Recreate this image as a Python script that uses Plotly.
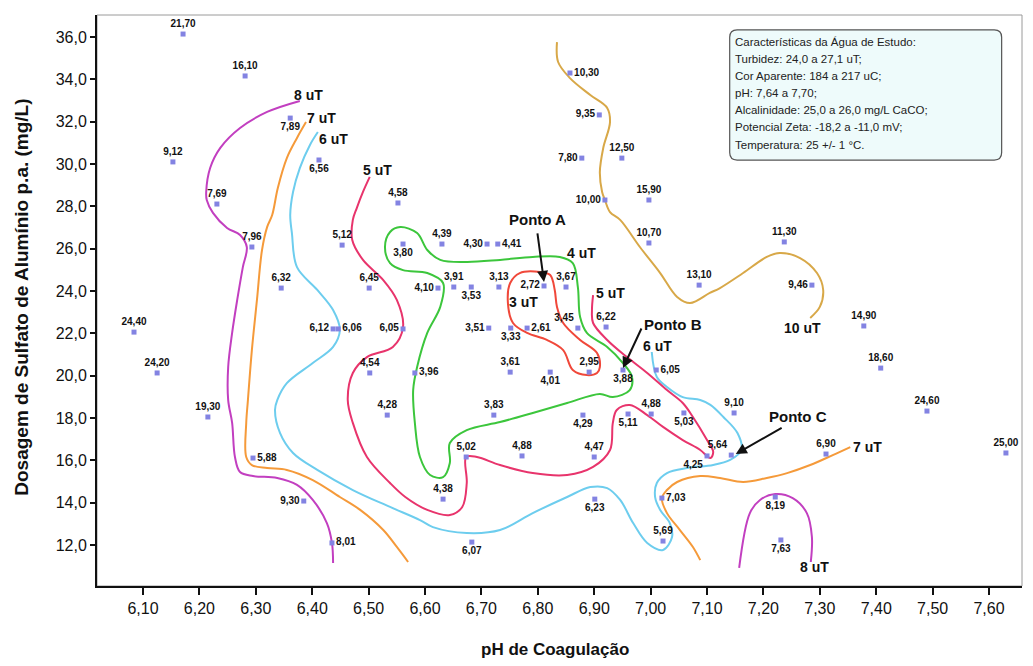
import plotly.graph_objects as go

# ---------------- data ----------------
pts_ph = [6.171, 6.281, 6.361, 6.153, 6.412, 6.231, 6.552, 6.857, 6.909, 6.949, 6.878, 6.919, 6.997,
          6.293, 6.453, 6.561, 6.345, 6.501, 6.084, 6.437, 6.446, 6.561, 6.125, 6.502, 6.582,
          6.630, 6.710, 6.729, 6.623, 6.651, 6.682, 6.731, 6.811, 6.850, 6.713, 6.752, 6.781, 6.871,
          6.921, 6.751, 6.822, 6.891, 6.951, 7.010, 6.997, 7.086, 7.237, 7.286, 7.378, 7.408,
          6.215, 6.533, 6.295, 6.385, 6.435, 6.722, 6.880, 6.960, 7.001, 7.059, 6.673, 6.772,
          6.900, 7.100, 6.632, 6.901, 7.020, 6.683, 7.022, 7.148, 7.143, 7.311, 7.490, 7.630,
          7.221, 7.231]
pts_dose = [36.14, 34.16, 32.17, 30.10, 30.19, 28.11, 28.16, 34.30, 32.32, 30.28, 30.28, 28.30, 28.30,
            26.08, 26.17, 26.22, 24.14, 24.14, 22.06, 22.21, 22.21, 22.21, 20.13, 20.13, 20.13,
            26.22, 26.22, 26.22, 24.14, 24.19, 24.19, 24.19, 24.24, 24.19, 22.25, 22.25, 22.25, 22.25,
            22.30, 20.17, 20.17, 20.17, 20.27, 20.27, 26.27, 24.28, 26.32, 24.28, 22.35, 20.36,
            18.05, 18.14, 16.11, 14.08, 12.10, 18.14, 18.14, 18.19, 18.19, 18.24, 16.16, 16.21,
            16.16, 16.21, 14.17, 14.17, 14.22, 12.14, 12.19, 18.24, 16.25, 16.30, 18.33, 16.35,
            14.27, 12.24]
pts_turb = ["21,70", "16,10", "7,89", "9,12", "6,56", "7,69", "4,58", "10,30", "9,35", "12,50", "7,80", "10,00", "15,90",
            "7,96", "5,12", "3,80", "6,32", "6,45", "24,40", "6,12", "6,06", "6,05", "24,20", "4,54", "3,96",
            "4,39", "4,30", "4,41", "4,10", "3,91", "3,53", "3,13", "2,72", "3,67", "3,51", "3,33", "2,61", "3,45",
            "6,22", "3,61", "4,01", "2,95", "3,88", "6,05", "10,70", "13,10", "11,30", "9,46", "14,90", "18,60",
            "19,30", "4,28", "5,88", "9,30", "8,01", "3,83", "4,29", "5,11", "4,88", "5,03", "5,02", "4,88",
            "4,47", "4,25", "4,38", "6,23", "7,03", "6,07", "5,69", "9,10", "5,64", "6,90", "24,60", "25,00",
            "8,19", "7,63"]
label_pos = ["T", "T", "B", "T", "B", "T", "T", "R", "L", "T", "L", "L", "T",
             "T", "T", "B", "T", "T", "T", "L", "R", "L", "T", "T", "R",
             "T", "L", "R", "L", "T", "B", "T", "L", "T", "L", "B", "R", "TL",
             "T", "T", "B", "T", "B", "R", "T", "T", "T", "L", "T", "T",
             "T", "T", "R", "L", "R", "T", "B", "B", "T", "B", "T", "T",
             "T", "BL", "T", "B", "R", "B", "T", "T", "TL", "T", "T", "T",
             "B", "B"]

# iso-turbidity curves (pH, dose)
c8a_ph = [6.378, 6.320, 6.272, 6.237, 6.219, 6.212, 6.213, 6.224, 6.249, 6.272, 6.284, 6.277, 6.267,
          6.258, 6.251, 6.251, 6.258, 6.263, 6.272, 6.295, 6.338, 6.373, 6.401, 6.426, 6.435, 6.437]
c8a_dose = [32.98, 32.46, 31.70, 30.76, 29.81, 28.68, 28.30, 27.69, 26.98, 26.65, 26.08, 25.13, 23.58,
            22.02, 20.41, 18.85, 17.77, 16.16, 15.45, 15.26, 15.17, 14.84, 14.13, 13.04, 12.10, 11.15]
c8b_ph = [7.157, 7.176, 7.194, 7.221, 7.252, 7.277, 7.286, 7.284]
c8b_dose = [10.92, 13.51, 14.13, 14.41, 14.22, 13.51, 12.38, 11.20]
c7a_ph = [6.389, 6.373, 6.355, 6.339, 6.329, 6.320, 6.311, 6.302, 6.293, 6.286, 6.283, 6.283, 6.293,
          6.320, 6.355, 6.401, 6.449, 6.485, 6.526, 6.550, 6.570]
c7a_dose = [31.98, 31.23, 30.28, 28.87, 27.59, 27.02, 25.94, 23.58, 21.21, 18.85, 17.77, 16.16, 15.78,
            15.64, 15.55, 15.07, 14.27, 13.66, 12.71, 11.91, 11.20]
c7b_ph = [7.354, 7.323, 7.283, 7.242, 7.206, 7.164, 7.123, 7.088, 7.047, 7.029, 7.020, 7.029, 7.052, 7.075, 7.088]
c7b_dose = [16.63, 16.25, 15.78, 15.40, 15.17, 14.98, 15.17, 15.26, 14.98, 14.60, 14.22, 13.51, 12.71, 11.91, 11.29]
c6_ph = [6.410, 6.396, 6.378, 6.366, 6.361, 6.364, 6.373, 6.409, 6.437, 6.449, 6.437, 6.401, 6.355,
         6.338, 6.334, 6.343, 6.366, 6.409, 6.472, 6.538, 6.591, 6.614, 6.674, 6.733, 6.791, 6.852,
         6.893, 6.923, 6.946, 6.969, 6.994, 7.022, 7.038, 7.034, 7.017, 7.008, 7.011, 7.029, 7.065,
         7.111, 7.141, 7.161, 7.154, 7.129, 7.106, 7.088, 7.057, 7.029, 7.011, 7.002]
c6_dose = [31.51, 30.90, 29.81, 28.68, 27.59, 26.74, 25.13, 24.05, 23.10, 22.16, 21.36, 20.60, 19.65,
           18.85, 18.38, 17.29, 16.35, 15.55, 14.60, 13.80, 13.18, 12.85, 12.57, 12.71, 13.51, 14.27,
           14.74, 14.69, 14.13, 13.04, 12.10, 11.77, 12.38, 13.04, 13.66, 14.27, 14.93, 15.40, 15.64,
           15.78, 16.02, 16.49, 17.29, 18.05, 18.62, 18.85, 18.99, 19.47, 19.94, 21.12]
c5_ph = [6.502, 6.490, 6.479, 6.472, 6.471, 6.490, 6.526, 6.550, 6.561, 6.543, 6.497, 6.472, 6.463,
         6.472, 6.497, 6.538, 6.565, 6.604, 6.644, 6.666, 6.674, 6.673, 6.692, 6.733, 6.791, 6.852,
         6.898, 6.928, 6.933, 6.940, 6.963, 6.994, 7.022, 7.057, 7.088, 7.106, 7.111, 7.100, 7.075,
         7.057, 7.029, 6.994, 6.958, 6.923, 6.898, 6.896, 6.898]
c5_dose = [29.39, 28.68, 27.92, 27.36, 26.41, 25.47, 24.52, 23.58, 22.30, 21.36, 20.88, 20.13, 18.85,
           17.77, 16.16, 14.93, 14.27, 13.66, 13.42, 13.80, 14.93, 16.16, 16.16, 15.78, 15.40, 15.31,
           15.69, 16.49, 17.77, 18.38, 18.62, 18.14, 17.58, 16.96, 16.49, 16.11, 16.40, 16.96, 18.05,
           18.71, 19.32, 20.13, 20.88, 21.69, 22.49, 23.10, 23.81]
c4_ph = [6.604, 6.586, 6.556, 6.538, 6.529, 6.538, 6.561, 6.604, 6.632, 6.627, 6.604, 6.586, 6.579,
         6.582, 6.591, 6.609, 6.632, 6.644, 6.644, 6.674, 6.733, 6.791, 6.852, 6.910, 6.933, 6.963,
         6.967, 6.951, 6.923, 6.887, 6.875, 6.871, 6.862, 6.839, 6.791, 6.733, 6.674, 6.627, 6.604]
c4_dose = [25.94, 26.74, 27.02, 26.79, 26.08, 25.32, 24.99, 24.85, 24.38, 23.25, 22.02, 20.41, 19.32,
           17.77, 16.16, 15.31, 15.21, 15.88, 16.82, 17.43, 17.81, 18.24, 18.71, 19.14, 18.99, 19.32,
           19.94, 20.60, 21.36, 22.02, 22.77, 24.19, 25.32, 25.61, 25.61, 25.47, 25.37, 25.47, 25.94]
c3_ph = [6.751, 6.768, 6.804, 6.822, 6.830, 6.834, 6.845, 6.875, 6.905, 6.910, 6.905, 6.887, 6.862,
         6.845, 6.816, 6.781, 6.756, 6.747, 6.751]
c3_dose = [24.38, 24.85, 24.90, 24.76, 24.05, 23.25, 22.49, 21.69, 21.07, 20.41, 20.13, 20.03, 20.27,
           21.21, 21.69, 22.02, 22.49, 23.43, 24.38]
c10_ph = [6.834, 6.836, 6.857, 6.893, 6.923, 6.928, 6.916, 6.910, 6.914, 6.919, 6.928, 6.946, 6.981,
          7.017, 7.047, 7.070, 7.105, 7.123, 7.164, 7.206, 7.229, 7.265, 7.295, 7.306, 7.300, 7.283]
c10_dose = [35.76, 34.82, 34.06, 33.26, 32.65, 31.98, 30.76, 29.62, 28.68, 28.30, 27.73, 27.36, 26.08,
            24.85, 23.72, 23.43, 23.91, 24.14, 24.85, 25.61, 25.80, 25.56, 24.85, 24.05, 23.25, 22.73]

curve_label_text = ["8 uT", "7 uT", "6 uT", "5 uT", "4 uT", "3 uT", "5 uT", "6 uT", "10 uT", "7 uT", "8 uT"]
curve_label_ph = [6.393, 6.417, 6.437, 6.515, 6.878, 6.774, 6.928, 7.013, 7.270, 7.385, 7.291]
curve_label_dose = [33.26, 32.17, 31.18, 29.72, 25.80, 23.48, 23.91, 21.40, 22.25, 16.63, 10.96]

ponto_text = ["Ponto A", "Ponto B", "Ponto C"]
ponto_text_ph = [6.799, 7.040, 7.261]
ponto_text_dose = [27.36, 22.44, 18.05]
ponto_tail_ph = [6.799, 6.985, 7.235]
ponto_tail_dose = [26.79, 22.30, 17.58]
ponto_head_ph = [6.811, 6.951, 7.151]
ponto_head_dose = [24.43, 20.36, 16.30]

x_ticks = [6.1, 6.2, 6.3, 6.4, 6.5, 6.6, 6.7, 6.8, 6.9, 7.0, 7.1, 7.2, 7.3, 7.4, 7.5, 7.6]
x_ticktext = ["6,10", "6,20", "6,30", "6,40", "6,50", "6,60", "6,70", "6,80", "6,90", "7,00",
              "7,10", "7,20", "7,30", "7,40", "7,50", "7,60"]
y_ticks = [12, 14, 16, 18, 20, 22, 24, 26, 28, 30, 32, 34, 36]
y_ticktext = ["12,0", "14,0", "16,0", "18,0", "20,0", "22,0", "24,0", "26,0", "28,0", "30,0",
              "32,0", "34,0", "36,0"]

info_lines = ["Características da Água de Estudo:",
              "Turbidez: 24,0 a 27,1 uT;",
              "Cor Aparente: 184 a 217 uC;",
              "pH: 7,64 a 7,70;",
              "Alcalinidade: 25,0 a 26,0 mg/L CaCO;",
              "Potencial Zeta: -18,2 a -11,0 mV;",
              "Temperatura: 25 +/- 1 °C."]

# ---------------- figure ----------------
POS = {"T": "top center", "B": "bottom center", "L": "middle left", "R": "middle right",
       "TL": "top left", "BL": "bottom left"}
FONT = "Liberation Sans, Arial, sans-serif"

fig = go.Figure()

curves = [
    (c8a_ph, c8a_dose, "#c23fc0"),
    (c8b_ph, c8b_dose, "#c23fc0"),
    (c7a_ph, c7a_dose, "#f59a3a"),
    (c7b_ph, c7b_dose, "#f59a3a"),
    (c6_ph, c6_dose, "#6dcdee"),
    (c5_ph, c5_dose, "#e8346c"),
    (c4_ph, c4_dose, "#3cc63c"),
    (c3_ph, c3_dose, "#f0483a"),
    (c10_ph, c10_dose, "#d8a848"),
]
for xs, ys, col in curves:
    fig.add_trace(go.Scatter(x=xs, y=ys, mode="lines",
                             line=dict(color=col, width=2, shape="spline", smoothing=1.0),
                             hoverinfo="skip", showlegend=False))

fig.add_trace(go.Scatter(
    x=pts_ph, y=pts_dose, mode="markers+text", text=pts_turb,
    texttemplate="<b>%{text}</b>",
    textposition=[POS[p] for p in label_pos],
    textfont=dict(family=FONT, size=10, color="#111"),
    marker=dict(symbol="square", size=5, color="#8383e2"),
    showlegend=False, cliponaxis=False))

annotations = []
for t, x, y in zip(curve_label_text, curve_label_ph, curve_label_dose):
    annotations.append(dict(x=x, y=y, xref="x", yref="y", text="<b>%s</b>" % t, showarrow=False,
                            xanchor="center", yanchor="middle",
                            font=dict(family=FONT, size=14, color="#111")))
for t, x, y in zip(ponto_text, ponto_text_ph, ponto_text_dose):
    annotations.append(dict(x=x, y=y, xref="x", yref="y", text="<b>%s</b>" % t, showarrow=False,
                            xanchor="center", yanchor="middle",
                            font=dict(family=FONT, size=15, color="#111")))
for hx, hy, tx, ty in zip(ponto_head_ph, ponto_head_dose, ponto_tail_ph, ponto_tail_dose):
    annotations.append(dict(x=hx, y=hy, ax=tx, ay=ty, xref="x", yref="y", axref="x", ayref="y",
                            text="", showarrow=True, arrowhead=2, arrowsize=1.1, arrowwidth=2,
                            arrowcolor="#111"))

# info box text
box_top = 0.952
box_step = 0.0298
for i, line in enumerate(info_lines):
    annotations.append(dict(x=0.688, y=box_top - i * box_step, xref="paper", yref="paper",
                            xanchor="left", yanchor="middle", text=line, showarrow=False,
                            font=dict(family=FONT, size=11.5, color="#222")))

# axis titles
annotations.append(dict(x=0.495, y=-0.112, xref="paper", yref="paper", text="<b>pH de Coagulação</b>",
                        xanchor="center", yanchor="middle",
                        showarrow=False, font=dict(family=FONT, size=17, color="#111")))
annotations.append(dict(x=-0.081, y=0.505, xref="paper", yref="paper", textangle=-90,
                        xanchor="center", yanchor="middle",
                        text="<b>Dosagem de Sulfato de Alumínio p.a. (mg/L)</b>",
                        showarrow=False, font=dict(family=FONT, size=19, color="#111")))

x0, x1, y0, y1, rx, ry = 0.684, 0.978, 0.746, 0.974, 0.008, 0.013
box_path = (f"M {x0+rx},{y0} L {x1-rx},{y0} Q {x1},{y0} {x1},{y0+ry} L {x1},{y1-ry} "
            f"Q {x1},{y1} {x1-rx},{y1} L {x0+rx},{y1} Q {x0},{y1} {x0},{y1-ry} "
            f"L {x0},{y0+ry} Q {x0},{y0} {x0+rx},{y0} Z")
shapes = [
    dict(type="rect", xref="paper", yref="paper", x0=0, x1=1, y0=0, y1=1,
         line=dict(color="#9a9a9a", width=1), layer="below"),
    dict(type="path", xref="paper", yref="paper", path=box_path,
         fillcolor="#eefbfb", line=dict(color="#555", width=1.2)),
]

# page body has an 8px margin: figure is sized/offset so the plot area lands at 97..1022 x 15..586
fig.update_layout(
    width=1017, height=650,
    margin=dict(l=89, r=3, t=7, b=72),
    paper_bgcolor="white", plot_bgcolor="white",
    annotations=annotations, shapes=shapes,
    xaxis=dict(range=[6.0184, 7.6585], tickvals=x_ticks, ticktext=x_ticktext,
               showgrid=False, zeroline=False, showline=True, linecolor="#111", linewidth=2,
               ticks="outside", ticklen=7, tickwidth=1.5, tickcolor="#111",
               tickfont=dict(family=FONT, size=16, color="#111")),
    yaxis=dict(range=[10.066, 37.04], tickvals=y_ticks, ticktext=y_ticktext,
               showgrid=False, zeroline=False, showline=True, linecolor="#111", linewidth=2,
               ticks="outside", ticklen=5, tickwidth=1.5, tickcolor="#111",
               tickfont=dict(family=FONT, size=16, color="#111")),
)
fig.update_xaxes(tickprefix="<b>", ticksuffix="</b>")
fig.update_yaxes(tickprefix="<b>", ticksuffix="</b>")

fig.write_html("out.html")
